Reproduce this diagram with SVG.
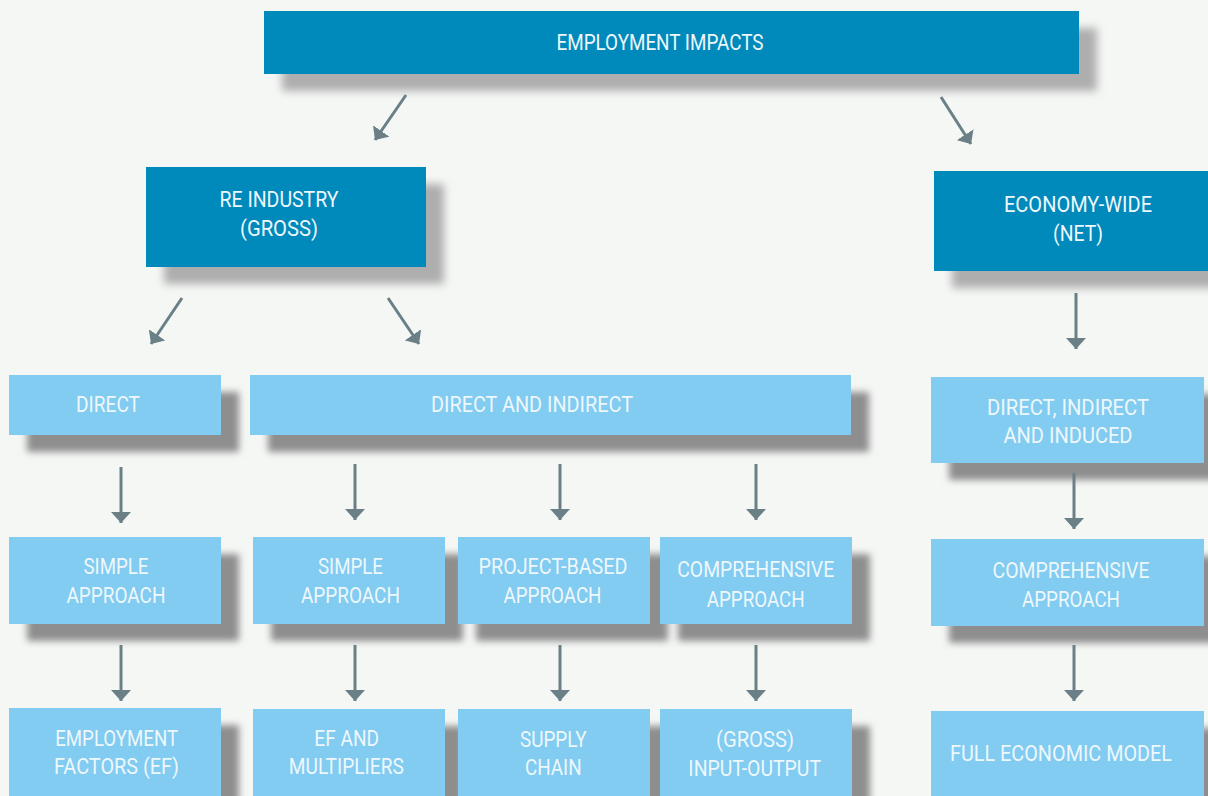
<svg xmlns="http://www.w3.org/2000/svg" width="1208" height="796" viewBox="0 0 1208 796">
<defs>
<filter id="shDark" x="-20%" y="-30%" width="140%" height="180%">
<feDropShadow dx="18" dy="17" stdDeviation="4.5" flood-color="#8f8f8f" flood-opacity="0.7"/>
</filter>
<filter id="shLight" x="-20%" y="-30%" width="140%" height="180%">
<feDropShadow dx="18" dy="17" stdDeviation="3.5" flood-color="#7a7a7a" flood-opacity="0.85"/>
</filter>
<marker id="ah" markerUnits="userSpaceOnUse" viewBox="0 0 11 20" markerWidth="11" markerHeight="20" refX="11" refY="10" orient="auto">
<path d="M0,0 L11,10 L0,20 Z" fill="#6b7f87"/>
</marker>
<style>
.dk{fill:#0089bb;filter:url(#shDark)}
.lt{fill:#82cbf1;filter:url(#shLight)}
.t{font-family:Roboto,"Liberation Sans",sans-serif;font-weight:400;font-size:22px;fill:#eef8fc;text-anchor:middle}
.c line{stroke:#6b7f87;stroke-width:3;fill:none;marker-end:url(#ah)}
</style>
</defs>
<rect x="0" y="0" width="1208" height="796" fill="#f5f7f5"/>

<g id="employment-impacts">
<rect class="dk" x="264" y="11" width="815" height="63"/>
<text class="t" x="660" y="50" textLength="207" lengthAdjust="spacingAndGlyphs">EMPLOYMENT IMPACTS</text>
</g>
<g id="re-industry">
<rect class="dk" x="146" y="167" width="280" height="100"/>
<text class="t" x="279" y="207" textLength="119" lengthAdjust="spacingAndGlyphs">RE INDUSTRY</text>
<text class="t" x="279" y="236" textLength="78" lengthAdjust="spacingAndGlyphs">(GROSS)</text>
</g>
<g id="economy-wide">
<rect class="dk" x="934" y="171" width="274" height="100"/>
<text class="t" x="1078" y="212" textLength="148" lengthAdjust="spacingAndGlyphs">ECONOMY-WIDE</text>
<text class="t" x="1078" y="241" textLength="50" lengthAdjust="spacingAndGlyphs">(NET)</text>
</g>

<g id="direct">
<rect class="lt" x="9" y="375" width="212" height="60"/>
<text class="t" x="108" y="412" textLength="64" lengthAdjust="spacingAndGlyphs">DIRECT</text>
</g>
<g id="direct-and-indirect">
<rect class="lt" x="250" y="375" width="601" height="60"/>
<text class="t" x="532" y="412" textLength="202" lengthAdjust="spacingAndGlyphs">DIRECT AND INDIRECT</text>
</g>
<g id="direct-indirect-induced">
<rect class="lt" x="931" y="377" width="273" height="86"/>
<text class="t" x="1068" y="415" textLength="162" lengthAdjust="spacingAndGlyphs">DIRECT, INDIRECT</text>
<text class="t" x="1068" y="443" textLength="129" lengthAdjust="spacingAndGlyphs">AND INDUCED</text>
</g>

<g id="simple-approach-1">
<rect class="lt" x="9" y="537" width="212" height="87"/>
<text class="t" x="116" y="574" textLength="65" lengthAdjust="spacingAndGlyphs">SIMPLE</text>
<text class="t" x="116" y="603" textLength="99" lengthAdjust="spacingAndGlyphs">APPROACH</text>
</g>
<g id="simple-approach-2">
<rect class="lt" x="253" y="537" width="192" height="87"/>
<text class="t" x="350.5" y="574" textLength="65" lengthAdjust="spacingAndGlyphs">SIMPLE</text>
<text class="t" x="350.5" y="603" textLength="99" lengthAdjust="spacingAndGlyphs">APPROACH</text>
</g>
<g id="project-based-approach">
<rect class="lt" x="458" y="537" width="192" height="87"/>
<text class="t" x="553" y="574" textLength="149" lengthAdjust="spacingAndGlyphs">PROJECT-BASED</text>
<text class="t" x="552.5" y="603" textLength="98" lengthAdjust="spacingAndGlyphs">APPROACH</text>
</g>
<g id="comprehensive-approach-1">
<rect class="lt" x="660" y="537" width="192" height="87"/>
<text class="t" x="755.7" y="577" textLength="157" lengthAdjust="spacingAndGlyphs">COMPREHENSIVE</text>
<text class="t" x="755.7" y="606.5" textLength="98" lengthAdjust="spacingAndGlyphs">APPROACH</text>
</g>
<g id="comprehensive-approach-2">
<rect class="lt" x="931" y="539" width="273" height="87"/>
<text class="t" x="1071" y="578" textLength="157" lengthAdjust="spacingAndGlyphs">COMPREHENSIVE</text>
<text class="t" x="1071" y="607" textLength="98" lengthAdjust="spacingAndGlyphs">APPROACH</text>
</g>

<g id="employment-factors">
<rect class="lt" x="9" y="708" width="212" height="95"/>
<text class="t" x="116.7" y="745.5" textLength="123" lengthAdjust="spacingAndGlyphs">EMPLOYMENT</text>
<text class="t" x="116.5" y="774" textLength="125" lengthAdjust="spacingAndGlyphs">FACTORS (EF)</text>
</g>
<g id="ef-and-multipliers">
<rect class="lt" x="253" y="709" width="192" height="95"/>
<text class="t" x="346.7" y="745.5" textLength="64.7" lengthAdjust="spacingAndGlyphs">EF AND</text>
<text class="t" x="346.3" y="774" textLength="115" lengthAdjust="spacingAndGlyphs">MULTIPLIERS</text>
</g>
<g id="supply-chain">
<rect class="lt" x="458" y="709" width="192" height="95"/>
<text class="t" x="553.3" y="746.5" textLength="66.7" lengthAdjust="spacingAndGlyphs">SUPPLY</text>
<text class="t" x="553.3" y="775" textLength="56.7" lengthAdjust="spacingAndGlyphs">CHAIN</text>
</g>
<g id="gross-input-output">
<rect class="lt" x="660" y="709" width="192" height="95"/>
<text class="t" x="755" y="747.3" textLength="78" lengthAdjust="spacingAndGlyphs">(GROSS)</text>
<text class="t" x="754.7" y="776" textLength="132.7" lengthAdjust="spacingAndGlyphs">INPUT-OUTPUT</text>
</g>
<g id="full-economic-model">
<rect class="lt" x="931" y="711" width="273" height="95"/>
<text class="t" x="1061" y="761" textLength="222" lengthAdjust="spacingAndGlyphs">FULL ECONOMIC MODEL</text>
</g>

<g id="connectors" class="c">
<line x1="406" y1="95" x2="375" y2="140"/>
<line x1="941" y1="97" x2="971" y2="144"/>
<line x1="182" y1="298" x2="151" y2="344"/>
<line x1="388" y1="298" x2="419" y2="344"/>
<line x1="121" y1="467" x2="121" y2="523"/>
<line x1="355" y1="464" x2="355" y2="520"/>
<line x1="560" y1="464" x2="560" y2="520"/>
<line x1="756" y1="464" x2="756" y2="520"/>
<line x1="121" y1="645" x2="121" y2="701"/>
<line x1="355" y1="645" x2="355" y2="701"/>
<line x1="560" y1="645" x2="560" y2="701"/>
<line x1="756" y1="645" x2="756" y2="701"/>
<line x1="1076" y1="293" x2="1076" y2="349"/>
<line x1="1074" y1="473" x2="1074" y2="529"/>
<line x1="1074" y1="645" x2="1074" y2="701"/>
</g>
</svg>
